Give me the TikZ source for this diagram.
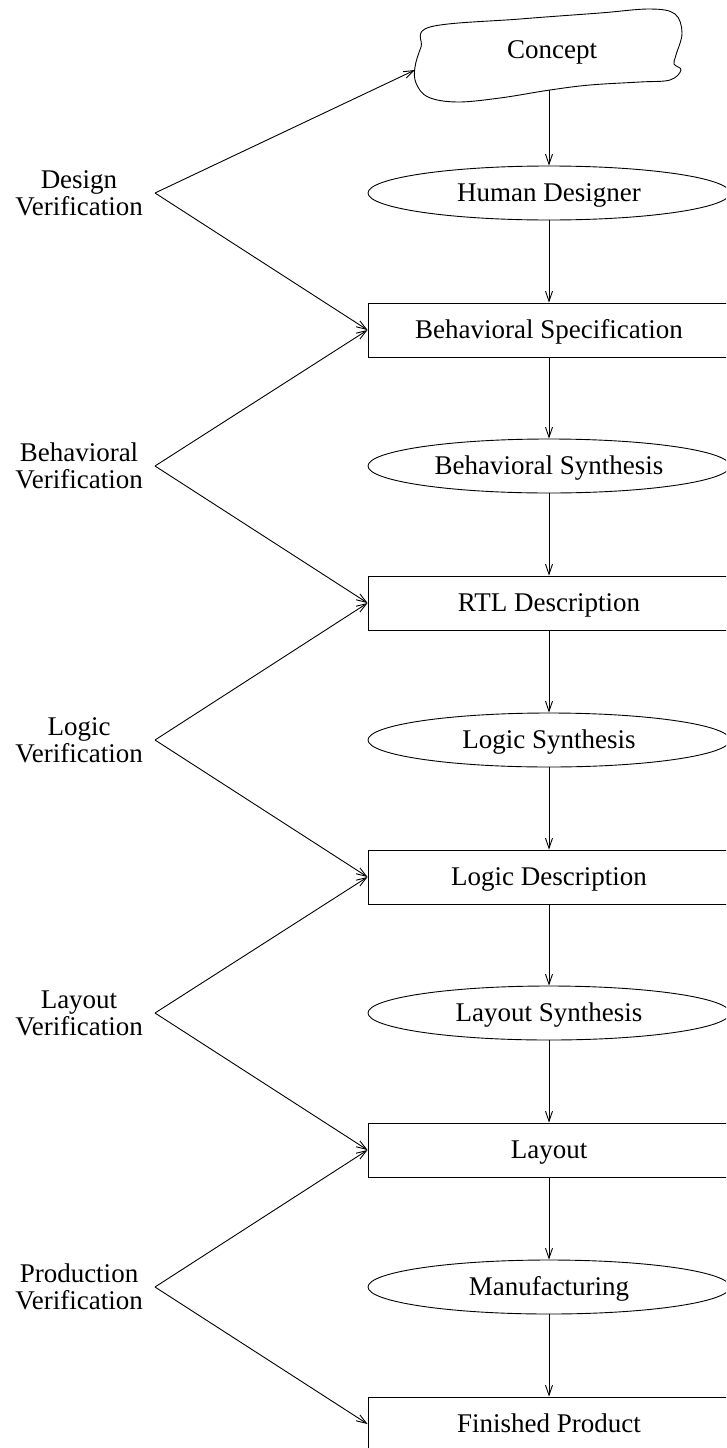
\documentclass[tikz,border=0pt]{standalone}
\usepackage{fontspec}
\setmainfont{Liberation Serif}
\usetikzlibrary{arrows.meta,shapes.geometric}
\begin{document}
\begin{tikzpicture}[x=1pt,y=-1pt,
  every node/.style={font=\fontsize{27}{27}\selectfont},
  flow/.style={line width=0.9pt,-{Straight Barb[length=10pt,width=7pt]}},
  stage/.style={draw,line width=0.9pt,rectangle,minimum width=362pt,minimum height=54pt,inner sep=0pt,text height=22pt,text depth=6pt},
  task/.style={draw,line width=0.9pt,ellipse,minimum width=362pt,minimum height=54pt,inner sep=0pt,text height=22pt,text depth=6pt},
  vlabel/.style={align=center,inner sep=0pt}
]
\useasboundingbox (0,0) rectangle (726,1448);
\clip (0,0) rectangle (726,1448);

% cloud-shaped concept
\draw[line width=0.9pt] plot[smooth cycle,tension=0.6] coordinates {
  (430,27) (520,19) (600,13) (650,9) (675,14) (682,33) (676,55) (674,64)
  (681,70) (670,80) (640,82) (590,85) (550,90) (500,98) (457,102) (428,97)
  (416,83) (415,67) (421,47)};
\node[text height=22pt,text depth=6pt,inner sep=0pt] (concept) at (552,50) {Concept};
\coordinate (ctip) at (415,70);
\coordinate (cbot) at (549,90);

% main flow
\node[task]  (hd)  at (549,193)  {Human Designer};
\node[stage] (bs)  at (549,330)  {Behavioral Specification};
\node[task]  (bsy) at (549,466)  {Behavioral Synthesis};
\node[stage] (rtl) at (549,603)  {RTL Description};
\node[task]  (ls)  at (549,740)  {Logic Synthesis};
\node[stage] (ld)  at (549,877)  {Logic Description};
\node[task]  (lys) at (549,1013) {Layout Synthesis};
\node[stage] (lay) at (549,1150) {Layout};
\node[task]  (mf)  at (549,1287) {Manufacturing};
\node[stage] (fp)  at (549,1424) {Finished Product};

\draw[flow] (cbot) -- (hd.north);
\draw[flow] (hd.south) -- (bs.north);
\draw[flow] (bs.south) -- (bsy.north);
\draw[flow] (bsy.south) -- (rtl.north);
\draw[flow] (rtl.south) -- (ls.north);
\draw[flow] (ls.south) -- (ld.north);
\draw[flow] (ld.south) -- (lys.north);
\draw[flow] (lys.south) -- (lay.north);
\draw[flow] (lay.south) -- (mf.north);
\draw[flow] (mf.south) -- (fp.north);

% verification labels with their chevrons
\node[vlabel] (dv)  at (79,193)  {Design\\Verification};
\node[vlabel] (bv)  at (79,466)  {Behavioral\\Verification};
\node[vlabel] (lv)  at (79,740)  {Logic\\Verification};
\node[vlabel] (lyv) at (79,1013) {Layout\\Verification};
\node[vlabel] (pv)  at (79,1287) {Production\\Verification};

\coordinate (a1) at (155,193);
\coordinate (a2) at (155,466);
\coordinate (a3) at (155,740);
\coordinate (a4) at (155,1013);
\coordinate (a5) at (155,1287);

\draw[flow] (a1) -- (ctip);
\draw[flow] (a1) -- (bs.west);
\draw[flow] (a2) -- (bs.west);
\draw[flow] (a2) -- (rtl.west);
\draw[flow] (a3) -- (rtl.west);
\draw[flow] (a3) -- (ld.west);
\draw[flow] (a4) -- (ld.west);
\draw[flow] (a4) -- (lay.west);
\draw[flow] (a5) -- (lay.west);
\draw[flow] (a5) -- (fp.west);
\end{tikzpicture}
\end{document}
